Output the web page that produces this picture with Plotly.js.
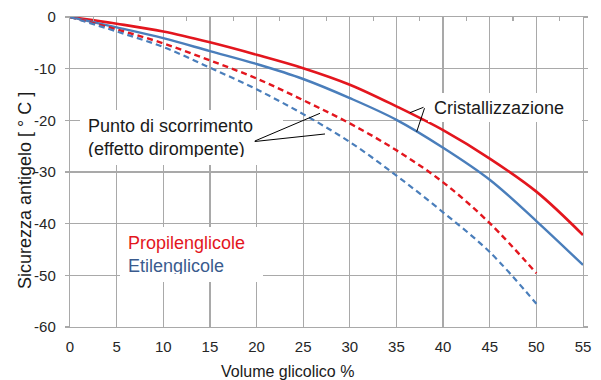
<!DOCTYPE html>
<html>
<head>
<meta charset="utf-8">
<script src="https://cdn.plot.ly/plotly-3.0.1.min.js"></script>
<style>html,body{margin:0;padding:0;background:#fff}#chart{width:601px;height:380px}</style>
</head>
<body>
<div id="chart"></div>
<script>
// Data
const volume = [0, 5, 10, 15, 20, 25, 30, 35, 40, 45, 50, 55];
const volumePour = [0, 5, 10, 15, 20, 25, 30, 35, 40, 45, 50];
const propCryst = [0, -1.3, -2.8, -4.9, -7.3, -9.9, -13.1, -17.3, -21.9, -27.4, -33.8, -42.2];
const ethCryst  = [0, -2.0, -4.1, -6.6, -9.1, -12.0, -15.7, -19.9, -25.3, -31.5, -39.5, -48.0];
const propPour  = [0, -2.4, -5.1, -8.4, -11.9, -16.1, -20.6, -25.8, -32.0, -39.9, -49.6];
const ethPour   = [0, -2.8, -5.8, -9.8, -14.0, -18.8, -24.2, -30.7, -37.8, -45.5, -55.5];
const xTicks = [0, 5, 10, 15, 20, 25, 30, 35, 40, 45, 50, 55];
const yTicks = [0, -10, -20, -30, -40, -50, -60];
const minorTop = [2.5, 7.5, 12.5, 17.5, 22.5, 27.5, 32.5, 37.5, 42.5, 47.5, 52.5];

const RED = '#e3161e';
const BLUE = '#4a7ebb';
const GRID = '#a9a9a9';
const FONT = 'Liberation Sans, Arial, sans-serif';

const traces = [
  {x: volume, y: propCryst, mode: 'lines', line: {color: RED, width: 2.6, shape: 'spline'}, name: 'Propilenglicole cristallizzazione'},
  {x: volume, y: ethCryst, mode: 'lines', line: {color: BLUE, width: 2.4, shape: 'spline'}, name: 'Etilenglicole cristallizzazione'},
  {x: volumePour, y: propPour, mode: 'lines', line: {color: RED, width: 2.4, shape: 'spline', dash: '6px,4px'}, name: 'Propilenglicole scorrimento'},
  {x: volumePour, y: ethPour, mode: 'lines', line: {color: BLUE, width: 2.2, shape: 'spline', dash: '6px,4px'}, name: 'Etilenglicole scorrimento'},
  {x: minorTop, y: minorTop.map(() => 0), xaxis: 'x2', mode: 'markers', marker: {opacity: 0}, hoverinfo: 'skip', showlegend: false}
];

function leader(xh, yh, xt, yt) {
  return {x: xh, y: yh, ax: xt, ay: yt, xref: 'x', yref: 'y', axref: 'x', ayref: 'y',
    text: '', showarrow: true, arrowhead: 0, arrowwidth: 1, arrowcolor: '#000', standoff: 0, startstandoff: 0};
}

const layout = {
  width: 601, height: 380,
  margin: {l: 70, r: 18, t: 17, b: 53},
  paper_bgcolor: '#fff', plot_bgcolor: '#fff',
  showlegend: false,
  font: {family: FONT, size: 15, color: '#262626'},
  xaxis: {
    range: [0, 55], tickvals: xTicks, ticktext: xTicks.map(String),
    showgrid: true, gridcolor: GRID, gridwidth: 1.2,
    showline: true, linecolor: GRID, linewidth: 1.2, mirror: true,
    ticks: '', ticklabelstandoff: 6, zeroline: false,
    tickfont: {family: FONT, size: 15, color: '#262626'}
  },
  xaxis2: {
    range: [0, 55], overlaying: 'x', side: 'top', tickvals: minorTop,
    showticklabels: false, ticks: 'inside', ticklen: 4, tickcolor: GRID, tickwidth: 1.2,
    showgrid: false, showline: false, zeroline: false
  },
  yaxis: {
    range: [-60, 0], tickvals: yTicks, ticktext: yTicks.map(String),
    showgrid: true, gridcolor: GRID, gridwidth: 1.2,
    showline: true, linecolor: GRID, linewidth: 1.2, mirror: 'ticks',
    ticks: 'outside', ticklen: 4, tickcolor: GRID, tickwidth: 1.2,
    ticklabelstandoff: 6, zeroline: false,
    tickfont: {family: FONT, size: 15, color: '#262626'}
  },
  annotations: [
    {xref: 'x', yref: 'y', x: 1.07, y: -18.0, xanchor: 'left', yanchor: 'top',
      text: 'Punto di scorrimento<br>(effetto dirompente)', align: 'left', valign: 'middle',
      width: 187, height: 39, borderpad: 8, borderwidth: 0, bgcolor: '#fff', showarrow: false,
      font: {family: FONT, size: 18, color: '#1a1a1a'}},
    {xref: 'x', yref: 'y', x: 5.36, y: -40.6, xanchor: 'left', yanchor: 'top',
      text: '<span style="color:' + RED + '">Propilenglicole</span><br><span style="color:#3a5b8e">Etilenglicole</span>',
      align: 'left', valign: 'middle',
      width: 127, height: 39, borderpad: 8, borderwidth: 0, bgcolor: '#fff', showarrow: false,
      font: {family: FONT, size: 18}},
    {xref: 'x', yref: 'y', x: 38.4, y: -14.7, xanchor: 'left', yanchor: 'top',
      text: 'Cristallizzazione', align: 'left', valign: 'middle',
      width: 142, height: 17, borderpad: 6, borderwidth: 0, bgcolor: '#fff', showarrow: false,
      font: {family: FONT, size: 18, color: '#1a1a1a'}},
    leader(26.80, -18.64, 19.65, -24.13),
    leader(27.34, -22.64, 19.65, -24.13),
    leader(36.45, -18.52, 38.06, -17.36),
    leader(37.17, -22.20, 38.06, -17.36),
    {xref: 'paper', yref: 'paper', x: 0.424, y: -0.145, xanchor: 'center', yanchor: 'middle',
      text: 'Volume glicolico %', showarrow: false, font: {family: FONT, size: 16, color: '#1a1a1a'}},
    {xref: 'paper', yref: 'paper', x: -0.0877, y: 0.4387, xanchor: 'center', yanchor: 'middle',
      text: 'Sicurezza antigelo [ ° C ]', textangle: -90, showarrow: false,
      font: {family: FONT, size: 18, color: '#1a1a1a'}}
  ]
};

Plotly.newPlot('chart', traces, layout, {staticPlot: true, displayModeBar: false});
</script>
</body>
</html>
